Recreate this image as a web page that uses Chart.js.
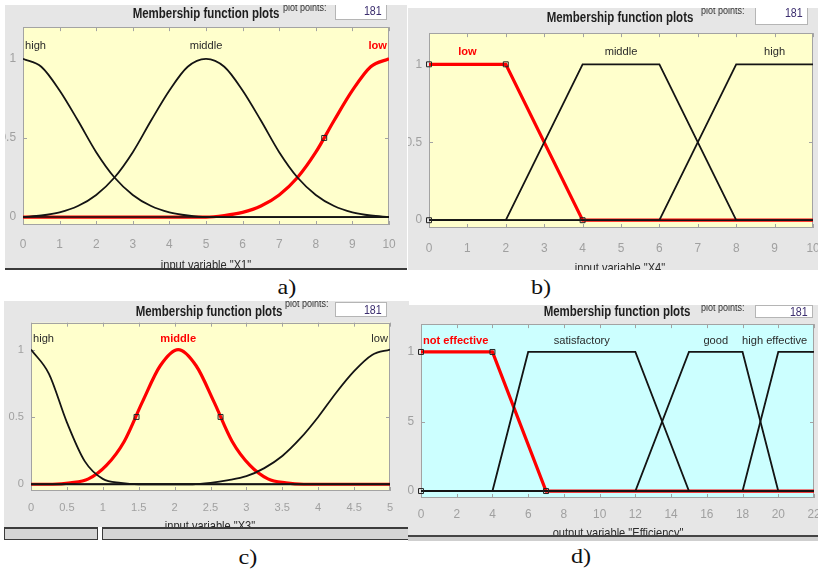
<!DOCTYPE html>
<html>
<head>
<meta charset="utf-8">
<script src="https://cdn.jsdelivr.net/npm/chart.js@4.4.1/dist/chart.umd.min.js"></script>
<style>
  body { margin: 0; background: #fff; width: 818px; height: 571px; overflow: hidden; position: relative; }
  .panel { position: absolute; background: #e6e6e6; overflow: hidden; }
  .panel canvas { position: absolute; }
  .txt { position: absolute; white-space: nowrap; line-height: 1; }
  .cap { position: absolute; font-family: "Liberation Serif", "Times New Roman", serif; font-size: 21px; line-height: 1; color: #111; transform: translateX(-50%) scaleX(1.15); }
  .btn { position: absolute; background: #d6d6d6; border: 1px solid #3c3c3c; box-sizing: border-box; }
</style>
</head>
<body>
<div class="cap" style="left:287px;top:277px">a)</div>
<div class="cap" style="left:541px;top:277px">b)</div>
<div class="cap" style="left:248px;top:547px">c)</div>
<div class="cap" style="left:581px;top:546px">d)</div>
<div class="btn" style="left:4px;top:527px;width:94px;height:13px;border-top-width:2px"></div>
<div class="btn" style="left:102px;top:527px;width:307px;height:13px;border-top-width:2px"></div>
<div style="position:absolute;left:408px;top:537px;width:410px;height:4px;background:#cfcfcf"></div>

<script>
// a) input variable "X1" - gaussian MFs, sampled from the plot
const x1Ticks = [0, 1, 2, 3, 4, 5, 6, 7, 8, 9, 10];
const x1Grid = [0, 0.5, 1, 1.5, 2, 2.5, 3, 3.5, 4, 4.5, 5, 5.5, 6, 6.5, 7, 7.5, 8, 8.5, 9, 9.5, 10];
const x1High = [1, 0.95, 0.8, 0.61, 0.41, 0.25, 0.14, 0.07, 0.03, 0.01, 0, 0, 0, 0, 0, 0, 0, 0, 0, 0, 0];
const x1Middle = [0, 0.01, 0.03, 0.07, 0.14, 0.25, 0.41, 0.61, 0.8, 0.95, 1, 0.95, 0.8, 0.61, 0.41, 0.25, 0.14, 0.07, 0.03, 0.01, 0];
const x1Low = [0, 0, 0, 0, 0, 0, 0, 0, 0, 0, 0, 0.01, 0.03, 0.07, 0.14, 0.25, 0.41, 0.61, 0.8, 0.95, 1];
const x1Names = ["high", "middle", "low"];
const x1NameX = [0, 5, 10];
const x1MarkX = [8.23];
const x1MarkY = [0.5];

// b) input variable "X4" - trapezoids
const x4Ticks = [0, 1, 2, 3, 4, 5, 6, 7, 8, 9, 10];
const x4LowX = [0, 2, 4, 10];
const x4LowY = [1, 1, 0, 0];
const x4MidX = [0, 2, 4, 6, 8, 10];
const x4MidY = [0, 0, 1, 1, 0, 0];
const x4HighX = [0, 6, 8, 10];
const x4HighY = [0, 0, 1, 1];
const x4Names = ["low", "middle", "high"];
const x4NameX = [1, 5, 9];
const x4MarkX = [0, 0, 2, 4];
const x4MarkY = [0, 1, 1, 0];

// c) input variable "X3" - gaussians
const x3Ticks = [0, 0.5, 1, 1.5, 2, 2.5, 3, 3.5, 4, 4.5, 5];
const x3Grid = [0, 0.25, 0.5, 0.75, 1, 1.25, 1.5, 1.75, 2, 2.25, 2.5, 2.75, 3, 3.25, 3.5, 3.75, 4, 4.25, 4.5, 4.75, 5];
const x3High = [1, 0.82, 0.46, 0.17, 0.04, 0.01, 0, 0, 0, 0, 0, 0, 0, 0, 0, 0, 0, 0, 0, 0, 0];
const x3Low = [0, 0, 0, 0, 0, 0, 0, 0, 0, 0, 0.01, 0.03, 0.06, 0.12, 0.21, 0.34, 0.5, 0.68, 0.84, 0.96, 1];
const x3MidX = [0, 0.3, 0.55, 0.8, 1.05, 1.3, 1.55, 1.8, 2.05, 2.3, 2.55, 2.8, 3.05, 3.3, 3.55, 3.8, 5];
const x3MidY = [0, 0, 0.01, 0.04, 0.14, 0.32, 0.61, 0.88, 1, 0.88, 0.61, 0.32, 0.14, 0.04, 0.01, 0, 0];
const x3Names = ["high", "middle", "low"];
const x3NameX = [0, 2.05, 5];
const x3MarkX = [1.47, 2.64];
const x3MarkY = [0.5, 0.5];

// d) output variable "Efficiency" - trapezoids
const effTicks = [0, 2, 4, 6, 8, 10, 12, 14, 16, 18, 20, 22];
const effNotX = [0, 4, 7, 22];
const effNotY = [1, 1, 0, 0];
const effSatX = [0, 4, 6, 12, 15, 22];
const effSatY = [0, 0, 1, 1, 0, 0];
const effGoodX = [0, 12, 15, 18, 20, 22];
const effGoodY = [0, 0, 1, 1, 0, 0];
const effHighX = [0, 18, 20, 22];
const effHighY = [0, 0, 1, 1];
const effNames = ["not effective", "satisfactory", "good", "high effective"];
const effNameX = [0, 9, 16.5, 19.8];
const effMarkX = [0, 0, 4, 7];
const effMarkY = [0, 1, 1, 0];

const yTicks = [0, 0.5, 1];

// pick a narrow font if there is one (matlab text is condensed)
function hasFont(name) {
  var c = document.createElement("canvas").getContext("2d");
  c.font = "40px monospace";
  var w1 = c.measureText("abcdefghijklmnop0123").width;
  c.font = '40px "' + name + '", monospace';
  var w2 = c.measureText("abcdefghijklmnop0123").width;
  return w1 !== w2;
}
const narrow = hasFont("Liberation Sans Narrow");
const FAM = narrow ? '"Liberation Sans Narrow", "Liberation Sans", Arial, sans-serif' : '"Liberation Sans", Arial, sans-serif';
function fs(n) { return narrow ? n : Math.round(n * 0.82 * 10) / 10; }
// html text can be squeezed instead
const HFAM = '"Liberation Sans", Arial, sans-serif';
const SQ = narrow ? 1 : 0.82;

function pts(xs, ys) {
  return xs.map(function (x, i) { return { x: x, y: ys[i] }; });
}

const RED = "#ff0000";
const BLK = "#141414";

const panels = [
  {
    box: [5, 5, 402, 263], border: "2px solid #3a3a3a", plot: [23.3, 23.3, 389.3, 225.7], bg: "#ffffcc",
    title: [206, 13], ptsX: 283, numBox: [335, 0, 52, 20], label: 'input variable "X1"', labelPos: [206, 264],
    tickPad: 13, tickSize: 14.5, xMin: 0, xMax: 10, xTicks: x1Ticks,
    names: x1Names, nameX: x1NameX, nameAlign: ["left", "center", "right"], selected: 2,
    lines: [
      { d: pts(x1Grid, x1High), c: BLK },
      { d: pts(x1Grid, x1Middle), c: BLK },
      { d: pts(x1Grid, x1Low), c: RED }
    ],
    marks: pts(x1MarkX, x1MarkY), smooth: true
  },
  {
    box: [408, 8, 410, 262], border: "none", plot: [428.7, 29, 812.3, 228.3], bg: "#ffffcc",
    title: [620, 17], ptsX: 701, numBox: [755, 0, 53, 25], label: 'input variable "X4"', labelPos: [620, 267],
    tickPad: 14, tickSize: 14.5, xMin: 0, xMax: 10, xTicks: x4Ticks,
    names: x4Names, nameX: x4NameX, nameAlign: ["center", "center", "center"], selected: 0,
    lines: [
      { d: pts(x4MidX, x4MidY), c: BLK },
      { d: pts(x4HighX, x4HighY), c: BLK },
      { d: pts(x4LowX, x4LowY), c: RED }
    ],
    marks: pts(x4MarkX, x4MarkY), smooth: false
  },
  {
    box: [4, 301, 405, 226], border: "none", plot: [30.7, 319.3, 389.3, 491.7], bg: "#ffffcc",
    title: [209, 311], ptsX: 285, numBox: [335, 302, 52, 15], label: 'input variable "X3"', labelPos: [210, 525],
    tickPad: 10, tickSize: 13.5, xMin: 0, xMax: 5, xTicks: x3Ticks,
    names: x3Names, nameX: x3NameX, nameAlign: ["left", "center", "right"], selected: 1,
    lines: [
      { d: pts(x3Grid, x3High), c: BLK },
      { d: pts(x3Grid, x3Low), c: BLK },
      { d: pts(x3MidX, x3MidY), c: RED }
    ],
    marks: pts(x3MarkX, x3MarkY), smooth: true
  },
  {
    box: [408, 305, 410, 230], border: "2px solid #444", plot: [421.3, 320, 814.7, 498.3], bg: "#ccffff",
    title: [617, 311], ptsX: 701, numBox: [755, 305, 58, 13], label: 'output variable "Efficiency"', labelPos: [618, 532],
    tickPad: 10, tickSize: 14.5, xMin: 0, xMax: 22, xTicks: effTicks,
    names: effNames, nameX: effNameX, nameAlign: ["left", "center", "center", "center"], selected: 0,
    lines: [
      { d: pts(effSatX, effSatY), c: BLK },
      { d: pts(effGoodX, effGoodY), c: BLK },
      { d: pts(effHighX, effHighY), c: BLK },
      { d: pts(effNotX, effNotY), c: RED }
    ],
    marks: pts(effMarkX, effMarkY), smooth: false
  }
];

// frame, inner tick marks and mf names
const mfPlugin = {
  id: "mf",
  beforeDatasetsDraw(chart, args, o) {
    var ctx = chart.ctx, a = chart.chartArea, x = chart.scales.x, y = chart.scales.y;
    ctx.save();
    ctx.fillStyle = o.bg;
    ctx.fillRect(a.left, a.top, a.right - a.left, a.bottom - a.top);
    ctx.strokeStyle = "#a3a3a3";
    ctx.lineWidth = 1;
    ctx.beginPath();
    x.ticks.forEach(function (t) {
      var px = Math.round(x.getPixelForValue(t.value)) + 0.5;
      ctx.moveTo(px, a.bottom); ctx.lineTo(px, a.bottom - 4);
      ctx.moveTo(px, a.top); ctx.lineTo(px, a.top + 4);
    });
    y.ticks.forEach(function (t) {
      var py = Math.round(y.getPixelForValue(t.value)) + 0.5;
      ctx.moveTo(a.left, py); ctx.lineTo(a.left + 4, py);
      ctx.moveTo(a.right, py); ctx.lineTo(a.right - 4, py);
    });
    ctx.stroke();
    ctx.strokeRect(Math.round(a.left) + 0.5, Math.round(a.top) + 0.5, Math.round(a.right - a.left) - 1, Math.round(a.bottom - a.top) - 1);
    ctx.restore();
  },
  afterDatasetsDraw(chart, args, o) {
    var ctx = chart.ctx, x = chart.scales.x, y = chart.scales.y, a = chart.chartArea;
    ctx.save();
    ctx.textBaseline = "middle";
    o.names.forEach(function (n, i) {
      var sel = i === o.selected;
      ctx.font = (sel ? "bold " : "") + fs(13.5) + "px " + FAM;
      ctx.fillStyle = sel ? RED : "#2a2a2a";
      ctx.textAlign = o.align[i];
      var px = x.getPixelForValue(o.nameX[i]);
      if (o.align[i] === "left") px = Math.max(px, a.left) + 2;
      if (o.align[i] === "right") px = Math.min(px, a.right) - 2;
      ctx.fillText(n, px, y.getPixelForValue(1.08));
    });
    ctx.restore();
  }
};

function addText(parent, p, txt, x, y, css) {
  var el = document.createElement("div");
  el.className = "txt";
  el.textContent = txt;
  el.style.cssText += css;
  el.style.left = (x - p.box[0]) + "px";
  el.style.top = (y - p.box[1]) + "px";
  parent.appendChild(el);
  return el;
}

panels.forEach(function (p) {
  var div = document.createElement("div");
  div.className = "panel";
  div.style.left = p.box[0] + "px";
  div.style.top = p.box[1] + "px";
  div.style.width = p.box[2] + "px";
  div.style.height = p.box[3] + "px";
  div.style.borderBottom = p.border;
  document.body.appendChild(div);

  var L = p.plot[0], T = p.plot[1], R = p.plot[2], B = p.plot[3];
  var yW = 40, xH = 40, padT = 10, padR = 24;
  var cv = document.createElement("canvas");
  var W = Math.round(R - L) + yW + padR, H = Math.round(B - T) + padT + xH;
  cv.width = W; cv.height = H;
  cv.style.width = W + "px"; cv.style.height = H + "px";
  cv.style.left = (Math.round(L) - yW - p.box[0]) + "px";
  cv.style.top = (Math.round(T) - padT - p.box[1]) + "px";
  div.appendChild(cv);

  var ds = [{
    data: p.marks, showLine: false, pointStyle: "rect", pointRadius: 3.5, pointBorderWidth: 1,
    pointBorderColor: "#222", pointBackgroundColor: "rgba(0,0,0,0)", clip: false
  }, {
    data: [{ x: p.xMin, y: 0 }, { x: p.xMax, y: 0 }], borderColor: BLK, borderWidth: 1.5, pointRadius: 0
  }];
  p.lines.forEach(function (l) {
    ds.push({
      data: l.d, borderColor: l.c, borderWidth: l.c === RED ? 3.2 : 1.8, pointRadius: 0,
      cubicInterpolationMode: p.smooth ? "monotone" : "default", tension: 0
    });
  });

  var tickFont = { family: FAM, size: fs(p.tickSize) };
  new Chart(cv, {
    type: "line",
    data: { datasets: ds },
    options: {
      responsive: false, animation: false, devicePixelRatio: 1,
      layout: { padding: { left: 0, top: padT, right: padR, bottom: 0 } },
      plugins: {
        legend: { display: false }, tooltip: { enabled: false },
        mf: { bg: p.bg, names: p.names, nameX: p.nameX, align: p.nameAlign, selected: p.selected }
      },
      scales: {
        x: {
          type: "linear", min: p.xMin, max: p.xMax,
          afterBuildTicks: function (s) { s.ticks = p.xTicks.map(function (v) { return { value: v }; }); },
          afterFit: function (s) { s.height = xH; },
          grid: { display: false, drawTicks: false }, border: { display: false },
          ticks: { color: "#a0a0a0", font: tickFont, padding: p.tickPad, maxRotation: 0, autoSkip: false,
            callback: function (v) { return String(v); } }
        },
        y: {
          type: "linear", min: -0.05, max: 1.2,
          afterBuildTicks: function (s) { s.ticks = yTicks.map(function (v) { return { value: v }; }); },
          afterFit: function (s) { s.width = yW; },
          grid: { display: false, drawTicks: false }, border: { display: false },
          ticks: { color: "#a0a0a0", font: tickFont, padding: 7, callback: function (v) { return String(v); } }
        }
      }
    },
    plugins: [mfPlugin]
  });

  // matlab window bits around the axes
  addText(div, p, "Membership function plots", p.title[0], p.title[1],
    "font:bold 14px " + HFAM + ";color:#1e1e1e;transform:translate(-50%,-50%) scaleX(" + SQ + ");");
  addText(div, p, "plot points:", p.ptsX, p.box[1] - 4,
    "font:11px " + HFAM + ";color:#333;transform-origin:0 0;transform:scaleX(" + SQ + ");");
  var nb = p.numBox;
  var box = addText(div, p, "", nb[0], nb[1],
    "width:" + nb[2] + "px;height:" + nb[3] + "px;background:#fff;border:1px solid #b5b5b5;box-sizing:border-box;" +
    "display:flex;align-items:center;justify-content:flex-end;padding-right:4px;");
  var num = document.createElement("span");
  num.textContent = "181";
  num.style.cssText = "font:13px " + HFAM + ";color:#3b2d6e;transform-origin:100% 50%;transform:scaleX(" + SQ + ");";
  box.appendChild(num);
  addText(div, p, p.label, p.labelPos[0], p.labelPos[1],
    "font:13.5px " + HFAM + ";color:#2a2a2a;transform:translate(-50%,-50%) scaleX(" + SQ + ");");
});
</script>
</body>
</html>
